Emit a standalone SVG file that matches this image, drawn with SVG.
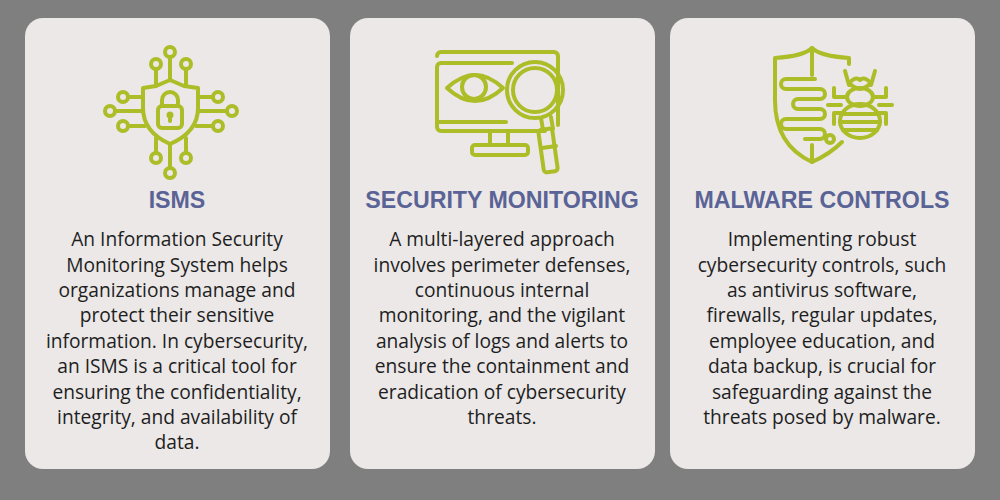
<svg xmlns="http://www.w3.org/2000/svg" width="1000" height="500" viewBox="0 0 1000 500">
<style>
.card{fill:#ebe8e7}
.ic{fill:none;stroke:#acbd27;stroke-width:4;stroke-linecap:round;stroke-linejoin:round}
.t{font-family:"Liberation Sans",Arial,sans-serif;font-weight:bold;font-size:23.2px;fill:#5a6396;text-anchor:middle}
.b{font-family:"Open Sans","Noto Sans",sans-serif;font-size:19.2px;fill:#1e1e1e;text-anchor:middle}
</style>
<rect width="1000" height="500" fill="#7f7f7f"/>
<g id="isms">
<rect class="card" x="25" y="18" width="305" height="451" rx="18"/>
<g class="ic">
<path d="M170 80 L184 86 L198 88 V108 Q198 132 170 144 Q143 132 143 108 V88 L156 86 Z"/>
<rect x="158" y="106" width="24" height="22" rx="4"/>
<path d="M162 106 V100 A8 8 0 0 1 178 100 V106"/>
<circle cx="170" cy="115" r="1.5"/><path d="M170 116 V121"/>
<circle cx="170" cy="52" r="5"/><path d="M170 57 V80"/>
<circle cx="156" cy="64" r="5"/><path d="M156 69 V86"/>
<circle cx="186" cy="64" r="5"/><path d="M186 69 V86"/>
<circle cx="170" cy="173" r="5"/><path d="M170 168 V144"/>
<circle cx="156" cy="158" r="5"/><path d="M156 153 V138"/>
<circle cx="186" cy="158" r="5"/><path d="M186 153 V138"/>
<circle cx="110" cy="111" r="5"/><path d="M115 111 H143"/>
<circle cx="123" cy="97" r="5"/><path d="M128 97 H143"/>
<circle cx="123" cy="126" r="5"/><path d="M128 126 H145"/>
<circle cx="232" cy="111" r="5"/><path d="M227 111 H198"/>
<circle cx="218" cy="97" r="5"/><path d="M213 97 H198"/>
<circle cx="218" cy="126" r="5"/><path d="M213 126 H196"/>
</g>
<text class="t" x="177" y="208">ISMS</text>
<text class="b" x="177" y="246">An Information Security</text>
<text class="b" x="177" y="272">Monitoring System helps</text>
<text class="b" x="177" y="297">organizations manage and</text>
<text class="b" x="177" y="322">protect their sensitive</text>
<text class="b" x="177" y="348">information. In cybersecurity,</text>
<text class="b" x="177" y="373">an ISMS is a critical tool for</text>
<text class="b" x="177" y="399">ensuring the confidentiality,</text>
<text class="b" x="177" y="424">integrity, and availability of</text>
<text class="b" x="177" y="449">data.</text>
</g>
<g id="monitoring">
<rect class="card" x="350" y="18" width="305" height="451" rx="18"/>
<g class="ic">
<path d="M512 63 H441 A4 4 0 0 0 437 67 V127 A4 4 0 0 0 441 131 H545 M558 125 V56 A4 4 0 0 0 554 52 H441 A4 4 0 0 0 437 56"/>
<path d="M437 122 H506"/>
<path d="M490 131 V145 M508 131 V145"/>
<rect x="472" y="145" width="56" height="10" rx="3"/>
<path d="M447 88 Q475 62 503 88 Q475 114 447 88 Z"/>
<circle cx="474" cy="87" r="12"/>
<circle cx="535" cy="90" r="28"/>
<circle cx="535" cy="90" r="22"/>
<path d="M541 118 L543 130 M551 117 L553 129"/>
<rect x="541" y="129" width="14" height="43" rx="3" transform="rotate(-8 548 150)"/>
<path d="M542 148 L556 146"/>
</g>
<text class="t" x="502" y="208">SECURITY MONITORING</text>
<text class="b" x="502" y="246">A multi-layered approach</text>
<text class="b" x="502" y="272">involves perimeter defenses,</text>
<text class="b" x="502" y="297">continuous internal</text>
<text class="b" x="502" y="322">monitoring, and the vigilant</text>
<text class="b" x="502" y="348">analysis of logs and alerts to</text>
<text class="b" x="502" y="373">ensure the containment and</text>
<text class="b" x="502" y="399">eradication of cybersecurity</text>
<text class="b" x="502" y="424">threats.</text>
</g>
<g id="malware">
<rect class="card" x="670" y="18" width="305" height="451" rx="18"/>
<g class="ic">
<path d="M849 64 V58 Q820 56 812 48 Q804 56 775 58 V100 Q775 145 812 162 Q830 154 842 142"/>
<path d="M812 48 V75 M812 145 V162"/>
<path d="M815 79 H786 A5 5 0 0 0 786 89 H820 A5 5 0 0 1 820 99 H798 A5 5 0 0 0 798 109 H820 A5 5 0 0 1 820 119 H786 A5 5 0 0 0 786 129 H820 A5 5 0 0 1 820 139 H805"/>
<circle cx="830" cy="139" r="4"/>
<ellipse cx="860" cy="121" rx="20" ry="17"/>
<path d="M841 114 H879 M840 122 H880 M843 130 H877"/>
<ellipse cx="860" cy="97" rx="13" ry="9"/>
<path d="M849 83 Q856 76 860 80 Q864 76 871 83 Q866 88 860 89 Q854 88 849 83 Z"/>
<path d="M849 85 L845 71 M871 85 L875 71"/>
<path d="M847 97 H834 V88 M873 97 H886 V88 M841 105 H828 M879 105 H892 M842 113 H834 V124 M878 113 H886 V124"/>
</g>
<text class="t" x="822" y="208">MALWARE CONTROLS</text>
<text class="b" x="822" y="246">Implementing robust</text>
<text class="b" x="822" y="272">cybersecurity controls, such</text>
<text class="b" x="822" y="297">as antivirus software,</text>
<text class="b" x="822" y="322">firewalls, regular updates,</text>
<text class="b" x="822" y="348">employee education, and</text>
<text class="b" x="822" y="373">data backup, is crucial for</text>
<text class="b" x="822" y="399">safeguarding against the</text>
<text class="b" x="822" y="424">threats posed by malware.</text>
</g>
</svg>
